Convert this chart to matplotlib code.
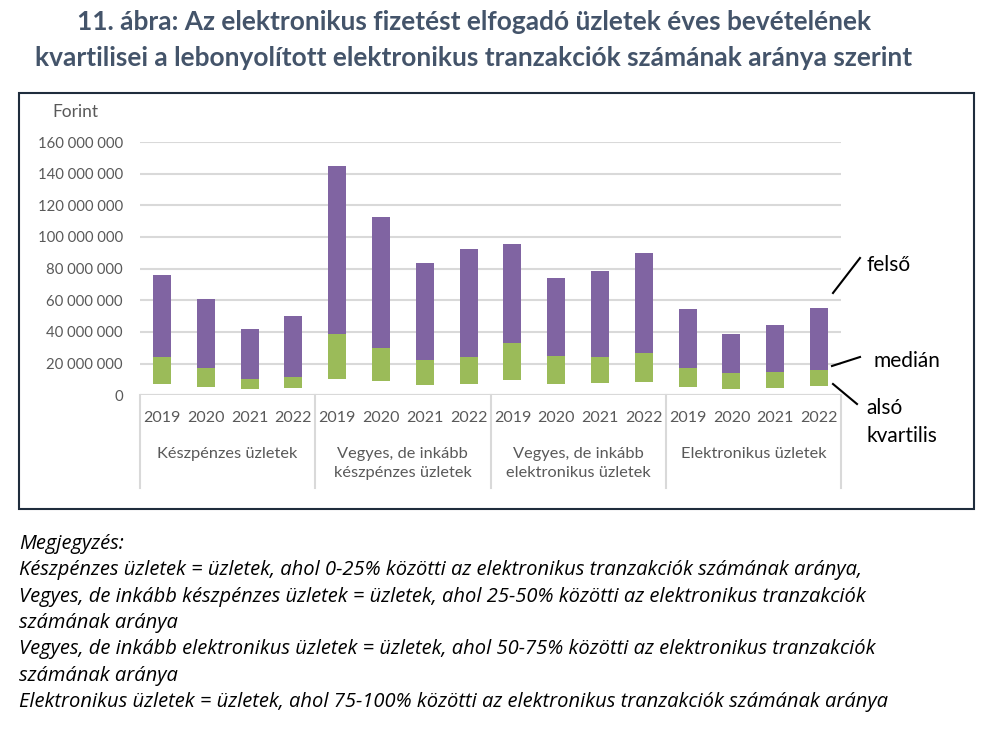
import matplotlib
matplotlib.use("Agg")
import matplotlib.pyplot as plt
from matplotlib.patches import Rectangle
from matplotlib.lines import Line2D
import numpy as np

plt.rcParams['font.family'] = ['Lato', 'DejaVu Sans']

years = ['2019', '2020', '2021', '2022']
groups = ['Készpénzes üzletek', 'Vegyes, de inkább\nkészpénzes üzletek',
          'Vegyes, de inkább\nelektronikus üzletek', 'Elektronikus üzletek']

# quartiles in millió Ft, 4 groups x 4 years
also = [7.3, 5.4, 4.2, 4.8,
        10.5, 8.9, 6.7, 7.3,
        9.9, 7.3, 8.0, 8.6,
        5.3, 4.2, 4.8, 6.1]
median = [24.2, 17.3, 10.3, 11.6,
          39.0, 29.9, 22.3, 24.2,
          33.1, 25.1, 24.4, 27.0,
          17.3, 14.1, 14.7, 16.0]
felso = [76.1, 61.0, 42.0, 50.4,
         144.7, 112.8, 83.7, 92.6,
         95.8, 74.2, 78.7, 90.1,
         54.6, 39.0, 44.7, 55.3]

also = np.array(also) * 1e6
median = np.array(median) * 1e6
felso = np.array(felso) * 1e6

purple = '#8064a2'
green = '#9bbb59'
gray = '#595959'

W, H = 988, 732
fig = plt.figure(figsize=(9.88, 7.32), dpi=100)

def fx(px):
    return px / W

def fy(py):
    return 1 - py / H

# chart frame
fig.add_artist(Rectangle((fx(19), fy(509)), fx(974) - fx(19), fy(93) - fy(509),
                         transform=fig.transFigure, fill=False,
                         edgecolor='#1f2d3d', lw=1.5))

ax = fig.add_axes([fx(140), fy(395.3), fx(841) - fx(140), fy(142) - fy(395.3)])
x = np.arange(16)
ax.bar(x, median - also, bottom=also, width=0.41, color=green, zorder=3)
ax.bar(x, felso - median, bottom=median, width=0.41, color=purple, zorder=3)

ax.set_xlim(-0.5, 15.5)
ax.set_ylim(0, 160e6)
ax.set_yticks(np.arange(0, 160e6 + 1, 20e6))
ax.set_yticklabels(['0' if v == 0 else f'{int(v):,}'.replace(',', ' ')
                    for v in np.arange(0, 160e6 + 1, 20e6)])
ax.tick_params(axis='y', length=0, labelsize=10.7, labelcolor=gray, pad=12.5)
ax.set_xticks([])
ax.grid(axis='y', color='#d9d9d9', lw=1.5, zorder=0)
for s in ax.spines.values():
    s.set_visible(False)
ax.axhline(0, color='#d9d9d9', lw=1.5, zorder=4)

ax.text(fx(75), fy(112), 'Forint', transform=fig.transFigure, ha='center',
        va='center', fontsize=12.5, color=gray)

# category axis
tr = ax.get_xaxis_transform()
for i, xi in enumerate(x):
    ax.text(xi, -0.09, years[i % 4], transform=tr, ha='center', va='center',
            fontsize=11.5, color=gray)
for g in range(4):
    ax.text(g * 4 + 1.5, -0.205, groups[g], transform=tr, ha='center', va='top',
            fontsize=11.8, color=gray, linespacing=1.4)
for b in [-0.5, 3.5, 7.5, 11.5, 15.5]:
    ax.plot([b, b], [0, -0.364], transform=tr, color='#d9d9d9', lw=1.5,
            clip_on=False)

# annotations
for (x0, y0, x1, y1) in [(833, 293, 860, 258), (832, 366, 860, 357), (833, 384, 857, 404)]:
    fig.add_artist(Line2D([fx(x0), fx(x1)], [fy(y0), fy(y1)],
                          transform=fig.transFigure, color='black', lw=1.5))
fig.text(fx(866), fy(265), 'felső', fontsize=15, va='center')
fig.text(fx(873), fy(361), 'medián', fontsize=15, va='center')
fig.text(fx(866), fy(408), 'alsó', fontsize=15, va='center')
fig.text(fx(866), fy(436), 'kvartilis', fontsize=15, va='center')

# title
tcol = '#44546a'
fig.text(fx(474), fy(22), '11. ábra: Az elektronikus fizetést elfogadó üzletek éves bevételének',
         ha='center', va='center', fontsize=18.9, fontweight='bold', color=tcol)
fig.text(fx(474), fy(58), 'kvartilisei a lebonyolított elektronikus tranzakciók számának aránya szerint',
         ha='center', va='center', fontsize=18.9, fontweight='bold', color=tcol)

# note
notes = ['Megjegyzés:',
         'Készpénzes üzletek = üzletek, ahol 0-25% közötti az elektronikus tranzakciók számának aránya,',
         'Vegyes, de inkább készpénzes üzletek = üzletek, ahol 25-50% közötti az elektronikus tranzakciók',
         'számának aránya',
         'Vegyes, de inkább elektronikus üzletek = üzletek, ahol 50-75% közötti az elektronikus tranzakciók',
         'számának aránya',
         'Elektronikus üzletek = üzletek, ahol 75-100% közötti az elektronikus tranzakciók számának aránya']
for i, line in enumerate(notes):
    fig.text(fx(19), fy(544 + i * 26.3), line, ha='left', va='center',
             fontsize=14.5, style='italic', color='black', family='Open Sans')

fig.savefig('out.png', dpi=100)
